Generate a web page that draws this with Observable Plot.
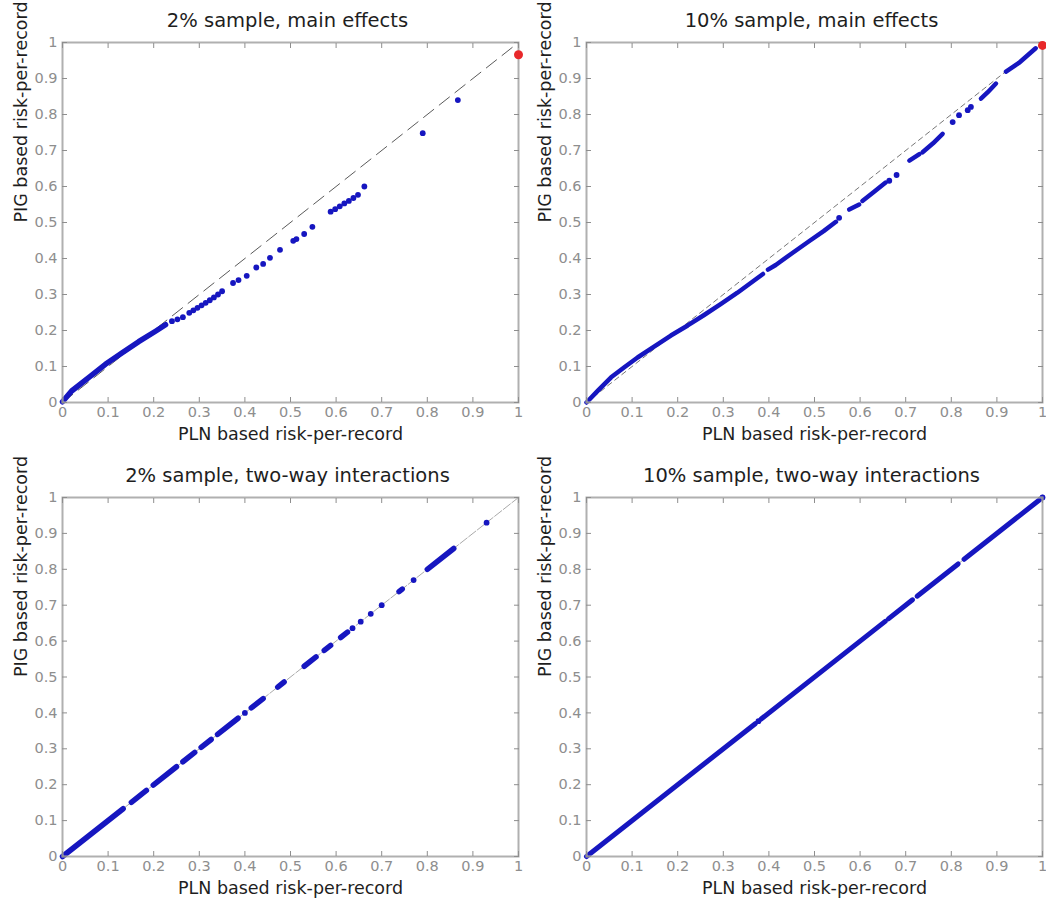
<!DOCTYPE html>
<html>
<head>
<meta charset="utf-8">
<script src="https://cdn.jsdelivr.net/npm/d3@7"></script>
<script src="https://cdn.jsdelivr.net/npm/@observablehq/plot@0.6"></script>
<style>
  body { margin: 0; background: #fff; }
  #wrap { position: relative; width: 1046px; height: 905px; background: #fff; overflow: hidden; }
  .panel { position: absolute; }
</style>
</head>
<body>
<div id="wrap"></div>
<script>
// ---------- shared labels ----------
const tickValues = [0, 0.1, 0.2, 0.3, 0.4, 0.5, 0.6, 0.7, 0.8, 0.9, 1];
const tickLabels = ["0", "0.1", "0.2", "0.3", "0.4", "0.5", "0.6", "0.7", "0.8", "0.9", "1"];
const titles = [
  "2% sample, main effects",
  "10% sample, main effects",
  "2% sample, two-way interactions",
  "10% sample, two-way interactions"
];
const xLabel = "PLN based risk-per-record";
const yLabel = "PIG based risk-per-record";
const diagX = [0, 1];
const diagY = [0, 1];

// ---------- panel 1: 2% sample, main effects ----------
const p1LineSeg = [1, 1, 1, 1, 1, 1, 1, 1];
const p1LineX = [0, 0.02, 0.058, 0.094, 0.131, 0.167, 0.204, 0.226];
const p1LineY = [0.002, 0.032, 0.07, 0.106, 0.138, 0.169, 0.198, 0.216];
const p1DotX = [0.24, 0.252, 0.264, 0.278, 0.287, 0.296, 0.305, 0.314, 0.323, 0.332, 0.341, 0.35,
  0.374, 0.386, 0.404, 0.425, 0.44, 0.455, 0.477, 0.506, 0.513, 0.53, 0.548,
  0.588, 0.598, 0.608, 0.618, 0.628, 0.638, 0.648, 0.662, 0.79, 0.867];
const p1DotY = [0.226, 0.231, 0.237, 0.249, 0.256, 0.263, 0.27, 0.277, 0.284, 0.292, 0.3, 0.309,
  0.332, 0.34, 0.352, 0.375, 0.385, 0.402, 0.424, 0.449, 0.454, 0.468, 0.488,
  0.53, 0.537, 0.545, 0.553, 0.56, 0.568, 0.577, 0.6, 0.748, 0.84];
const p1RedX = [1.0];
const p1RedY = [0.966];

// ---------- panel 2: 10% sample, main effects ----------
const p2LineSeg = [1,1,1,1,1,1,1,1,1,1,1,1,1, 2,2,2,2,2,2, 3,3, 4,4,4, 5,5, 6,6,6, 7,7,7, 8,8,8];
const p2LineX = [0, 0.025, 0.054, 0.083, 0.112, 0.149, 0.185, 0.222, 0.258, 0.295, 0.331, 0.375, 0.387,
  0.398, 0.415, 0.45, 0.488, 0.52, 0.547,
  0.576, 0.598,
  0.605, 0.63, 0.656,
  0.708, 0.73,
  0.737, 0.76, 0.781,
  0.865, 0.88, 0.898,
  0.92, 0.95, 0.985];
const p2LineY = [0, 0.033, 0.07, 0.098, 0.125, 0.156, 0.186, 0.214, 0.243, 0.274, 0.305, 0.346, 0.357,
  0.369, 0.382, 0.414, 0.448, 0.476, 0.502,
  0.536, 0.55,
  0.56, 0.585, 0.611,
  0.672, 0.69,
  0.695, 0.72, 0.746,
  0.844, 0.862, 0.886,
  0.919, 0.945, 0.984];
const p2DotX = [0.554, 0.664, 0.68, 0.803, 0.817, 0.836, 0.843];
const p2DotY = [0.513, 0.616, 0.632, 0.779, 0.798, 0.812, 0.821];
const p2RedX = [1.0];
const p2RedY = [0.992];

// ---------- panel 3: 2% sample, two-way interactions ----------
const p3LineSeg = [1,1, 2,2, 3,3, 4,4, 5,5, 6,6, 7,7, 8,8, 9,9, 10,10, 11,11, 12,12, 13,13];
const p3LineX = [0, 0.133, 0.151, 0.184, 0.199, 0.25, 0.264, 0.29, 0.304, 0.326, 0.34, 0.385,
  0.414, 0.44, 0.472, 0.486, 0.53, 0.556, 0.574, 0.588, 0.61, 0.625, 0.738, 0.745, 0.80, 0.858];
const p3LineY = [0, 0.133, 0.151, 0.184, 0.199, 0.25, 0.264, 0.29, 0.304, 0.326, 0.34, 0.385,
  0.414, 0.44, 0.472, 0.486, 0.53, 0.556, 0.574, 0.588, 0.61, 0.625, 0.738, 0.745, 0.80, 0.858];
const p3DotX = [0.40, 0.636, 0.654, 0.676, 0.70, 0.77, 0.93];
const p3DotY = [0.40, 0.636, 0.654, 0.676, 0.70, 0.77, 0.93];

// ---------- panel 4: 10% sample, two-way interactions ----------
const p4LineSeg = [1,1, 2,2, 3,3, 4,4, 5,5];
const p4LineX = [0, 0.37, 0.383, 0.655, 0.662, 0.715, 0.725, 0.815, 0.828, 1.0];
const p4LineY = [0, 0.37, 0.383, 0.655, 0.662, 0.715, 0.725, 0.815, 0.828, 1.0];
const p4DotX = [0.377, 1.0];
const p4DotY = [0.377, 1.0];

// ---------- rendering ----------
const BLUE = "#1616c0";
const RED = "#e8282a";
const AXIS = "#8e8e8e";
const FONT = "DejaVu Sans, Liberation Sans, Arial, sans-serif";

const zip = (xs, ys, extra) => xs.map((x, i) => ({x, y: ys[i], seg: extra ? extra[i] : 1}));
const fmt = v => tickLabels[tickValues.findIndex(t => Math.abs(t - v) < 1e-9)];

function panel(cfg) {
  const marks = [
    Plot.line(zip(diagX, diagY), {x: "x", y: "y", stroke: cfg.diagColor, strokeWidth: 1, strokeDasharray: cfg.diagDash}),
    Plot.line(zip(cfg.lx, cfg.ly, cfg.seg), {x: "x", y: "y", z: "seg", stroke: BLUE, strokeWidth: cfg.lw, strokeLinecap: "round", strokeLinejoin: "round"}),
    Plot.dot(zip(cfg.dx, cfg.dy), {x: "x", y: "y", r: 2.9, fill: BLUE}),
    Plot.frame({stroke: "#b0b0b0", strokeWidth: 2}),
    Plot.axisX({anchor: "bottom", ticks: tickValues, tickSize: -5, tickPadding: 9, tickFormat: fmt, fontSize: 14.5, color: AXIS, label: null}),
    Plot.axisX({anchor: "top", ticks: tickValues, tickSize: -5, tickFormat: () => "", color: AXIS, label: null}),
    Plot.axisY({anchor: "left", ticks: tickValues, tickSize: -5, tickPadding: 10, tickFormat: fmt, fontSize: 14.5, color: AXIS, label: null}),
    Plot.axisY({anchor: "right", ticks: tickValues, tickSize: -5, tickFormat: () => "", color: AXIS, label: null}),
    Plot.text([cfg.title], {text: d => d, frameAnchor: "top", lineAnchor: "middle", dy: -22, dx: -3, fontSize: 19.5, fill: "#1e1e1e"}),
    Plot.text([xLabel], {text: d => d, frameAnchor: "bottom", lineAnchor: "middle", dy: 32, fontSize: 17.5, fill: "#1e1e1e"}),
    Plot.text([yLabel], {text: d => d, frameAnchor: "left", lineAnchor: "middle", rotate: -90, dx: -41, fontSize: 17.5, fill: "#1e1e1e"})
  ];
  if (cfg.rx) marks.push(Plot.dot(zip(cfg.rx, cfg.ry), {x: "x", y: "y", r: 4.5, fill: RED}));
  const svg = Plot.plot({
    width: 523, height: 452,
    marginLeft: cfg.mL, marginRight: cfg.mR, marginTop: cfg.mT, marginBottom: cfg.mB,
    x: {domain: [0, 1]},
    y: {domain: [0, 1]},
    style: {fontFamily: FONT, background: "transparent", overflow: "visible"},
    marks
  });
  svg.classList.add("panel");
  svg.style.left = cfg.left + "px";
  svg.style.top = cfg.top + "px";
  svg.style.position = "absolute";
  document.getElementById("wrap").appendChild(svg);
}

panel({title: titles[0], left: 0, top: 0, mL: 62, mR: 5, mT: 42, mB: 50,
  seg: p1LineSeg, lx: p1LineX, ly: p1LineY, dx: p1DotX, dy: p1DotY, rx: p1RedX, ry: p1RedY,
  lw: 5.5, diagColor: "#5a5a5a", diagDash: "13,7"});
panel({title: titles[1], left: 523, top: 0, mL: 63, mR: 4, mT: 42, mB: 50,
  seg: p2LineSeg, lx: p2LineX, ly: p2LineY, dx: p2DotX, dy: p2DotY, rx: p2RedX, ry: p2RedY,
  lw: 4.5, diagColor: "#777", diagDash: "5,4"});
panel({title: titles[2], left: 0, top: 453, mL: 62, mR: 5, mT: 44, mB: 49,
  seg: p3LineSeg, lx: p3LineX, ly: p3LineY, dx: p3DotX, dy: p3DotY,
  lw: 5.5, diagColor: "#aaa", diagDash: "9,2"});
panel({title: titles[3], left: 523, top: 453, mL: 63, mR: 4, mT: 44, mB: 49,
  seg: p4LineSeg, lx: p4LineX, ly: p4LineY, dx: p4DotX, dy: p4DotY,
  lw: 5, diagColor: "#aaa", diagDash: "9,2"});
</script>
</body>
</html>
